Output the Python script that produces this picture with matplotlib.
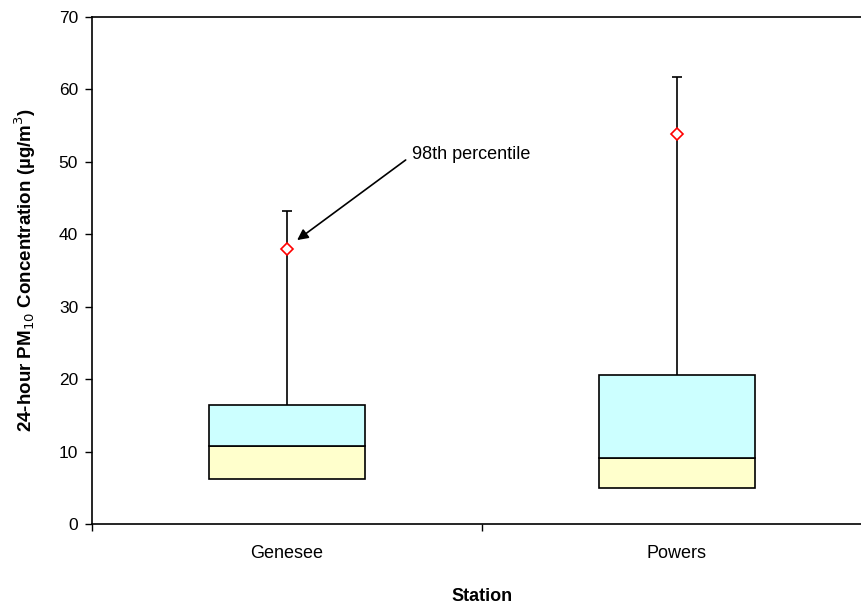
import numpy as np
import matplotlib.pyplot as plt

plt.rcParams['font.family'] = ['Liberation Sans', 'DejaVu Sans']

stations = ['Genesee', 'Powers']
q1 = [6.2, 5.0]
median = [10.8, 9.1]
q3 = [16.4, 20.6]
maximum = [43.2, 61.7]
p98 = [38.0, 53.8]

pos = np.array([0.5, 1.5])
width = 0.4

fig = plt.figure(figsize=(8.61, 6.05), dpi=100)
ax = fig.add_axes([92 / 861, 1 - 524 / 605, 780 / 861, 507 / 605])

# lower half of the box (Q1 to median) and upper half (median to Q3)
ax.bar(pos, np.array(median) - np.array(q1), width, bottom=q1,
       color='#FFFFCC', edgecolor='black', linewidth=1.2, zorder=3)
ax.bar(pos, np.array(q3) - np.array(median), width, bottom=median,
       color='#CCFFFF', edgecolor='black', linewidth=1.2, zorder=3)

# whiskers up to the maximum with a small cap
ax.vlines(pos, q3, maximum, color='black', linewidth=1.2, zorder=2)
ax.hlines(maximum, pos - 0.013, pos + 0.013, color='black', linewidth=1.2, zorder=2)

# 98th percentile markers
ax.plot(pos, p98, linestyle='none', marker='D', markersize=6,
        markerfacecolor='white', markeredgecolor='red', markeredgewidth=1.2, zorder=4)

ax.annotate('98th percentile', xy=(pos[0] + 0.026, p98[0] + 1.2), xytext=(0.82, 51.0),
            fontsize=13, va='center', ha='left',
            arrowprops=dict(arrowstyle='-|>', color='black', lw=1.2, mutation_scale=16,
                            relpos=(0, 0.45), shrinkA=3, shrinkB=0))

ax.set_xlim(0, 2)
ax.set_ylim(0, 70)
ax.set_yticks(np.arange(0, 71, 10))
ax.set_xticks([0, 1, 2])
ax.set_xticklabels([])
ax.set_xticks(pos, minor=True)
ax.set_xticklabels(stations, minor=True)
ax.tick_params(axis='x', which='minor', length=0, pad=15, labelsize=13)
ax.tick_params(axis='x', which='major', length=5, width=1)
ax.tick_params(axis='y', length=5, width=1, pad=5, labelsize=12.5)

for s in ax.spines.values():
    s.set_linewidth(1.2)

ax.set_ylabel('24-hour PM$_{10}$ Concentration (µg/m$^3$)', fontsize=13.5,
              fontweight='bold', labelpad=15)
ax.set_xlabel('Station', fontsize=13, fontweight='bold', labelpad=19)

fig.savefig('out.png', dpi=100)
